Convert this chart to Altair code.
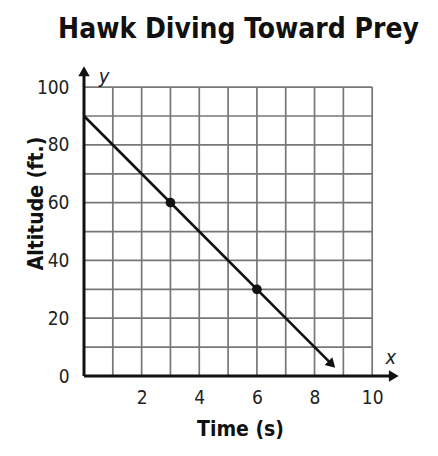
import altair as alt
import pandas as pd

# ---- data ----
x_tick_values = [2, 4, 6, 8, 10]
y_tick_values = [0, 20, 40, 60, 80, 100]
grid_x = [1, 2, 3, 4, 5, 6, 7, 8, 9, 10]
grid_y = [10, 20, 30, 40, 50, 60, 70, 80, 90, 100]
line_x = [0, 8.6]
line_y = [90, 4.0]
point_x = [3, 6]
point_y = [60, 30]
title_text = "Hawk Diving Toward Prey"
x_title = "Time (s)"
y_title = "Altitude (ft.)"

FONT = "Liberation Sans Narrow, DejaVu Sans Condensed, Arial Narrow, sans-serif"

xs = alt.Scale(domain=[0, 11], nice=False, zero=False)
ys = alt.Scale(domain=[0, 108], nice=False, zero=False)

vgrid = pd.DataFrame({"x": grid_x, "y": [0] * len(grid_x), "y2": [100] * len(grid_x)})
hgrid = pd.DataFrame({"y": grid_y, "x": [0] * len(grid_y), "x2": [10] * len(grid_y)})
line_df = pd.DataFrame({"x": line_x, "y": line_y})
pts_df = pd.DataFrame({"x": point_x, "y": point_y})
arrow_df = pd.DataFrame({"x": [line_x[-1]], "y": [line_y[-1]]})
xaxis_df = pd.DataFrame({"x": [0], "x2": [10.7], "y": [0]})
yaxis_df = pd.DataFrame({"y": [0], "y2": [105], "x": [0]})
xtip_df = pd.DataFrame({"x": [10.75], "y": [0], "lab": ["x"]})
ytip_df = pd.DataFrame({"x": [0], "y": [105.5], "lab": ["y"]})

x_axis = alt.Axis(
    values=x_tick_values, grid=False, domain=False, ticks=False, tickSize=0,
    labelFont=FONT, labelFontSize=19, labelColor="#222", labelPadding=12,
    title=x_title, titleFont=FONT, titleFontSize=21, titleFontWeight="bold",
    titleColor="#111", titleX=156, titleY=59, titleBaseline="alphabetic",
)
y_axis = alt.Axis(
    values=y_tick_values, grid=False, domain=False, ticks=False, tickSize=0,
    labelFont=FONT, labelFontSize=19, labelColor="#222", labelPadding=15,
    title=y_title, titleFont=FONT, titleFontSize=21, titleFontWeight="bold",
    titleColor="#111", titleX=-42, titleY=139, titleBaseline="alphabetic",
    titleAngle=-90,
)


def X(f="x"):
    return alt.X(f"{f}:Q", scale=xs, axis=x_axis)


def Y(f="y"):
    return alt.Y(f"{f}:Q", scale=ys, axis=y_axis)


vg = alt.Chart(vgrid).mark_rule(color="#777777", strokeWidth=1.7).encode(
    x=X(), y=Y(), y2="y2:Q",
)
hg = alt.Chart(hgrid).mark_rule(color="#777777", strokeWidth=1.7).encode(
    y=Y(), x=X(), x2="x2:Q",
)
xa = alt.Chart(xaxis_df).mark_rule(color="#111", strokeWidth=3).encode(
    x=X(), x2="x2:Q", y=Y(),
)
ya = alt.Chart(yaxis_df).mark_rule(color="#111", strokeWidth=3).encode(
    y=Y(), y2="y2:Q", x=X(),
)
xtip = alt.Chart(xtip_df).mark_point(
    shape="triangle-right", filled=True, color="#111", size=130, opacity=1
).encode(x=X(), y=Y())
ytip = alt.Chart(ytip_df).mark_point(
    shape="triangle-up", filled=True, color="#111", size=130, opacity=1
).encode(x=X(), y=Y())
xlab = alt.Chart(xtip_df).mark_text(
    font=FONT, fontSize=20, fontStyle="italic", color="#222", dx=-3, dy=-18
).encode(x=X(), y=Y(), text="lab:N")
ylab = alt.Chart(ytip_df).mark_text(
    font=FONT, fontSize=20, fontStyle="italic", color="#222", dx=20, dy=6
).encode(x=X(), y=Y(), text="lab:N")

ln = alt.Chart(line_df).mark_line(color="#111", strokeWidth=2.6).encode(x=X(), y=Y())
lnarrow = alt.Chart(arrow_df).mark_point(
    shape="triangle-up", filled=True, color="#111", size=120, opacity=1, angle=135
).encode(x=X(), y=Y())
pts = alt.Chart(pts_df).mark_point(filled=True, color="#111", size=95, opacity=1).encode(
    x=X(), y=Y()
)

chart = alt.layer(vg, hg, xa, ya, ln, lnarrow, pts, xtip, ytip, xlab, ylab).properties(
    width=317,
    height=312,
    autosize=alt.AutoSizeParams(type="none"),
    padding={"left": 76, "top": 56, "right": 29, "bottom": 72},
    title=alt.TitleParams(
        text=title_text, font=FONT, fontSize=28, fontWeight="bold", color="#111",
        anchor="middle", dx=-4, offset=-2, baseline="alphabetic",
    ),
).configure_view(stroke=None)

chart.save("out.html", embed_options={"renderer": "svg", "actions": False})
